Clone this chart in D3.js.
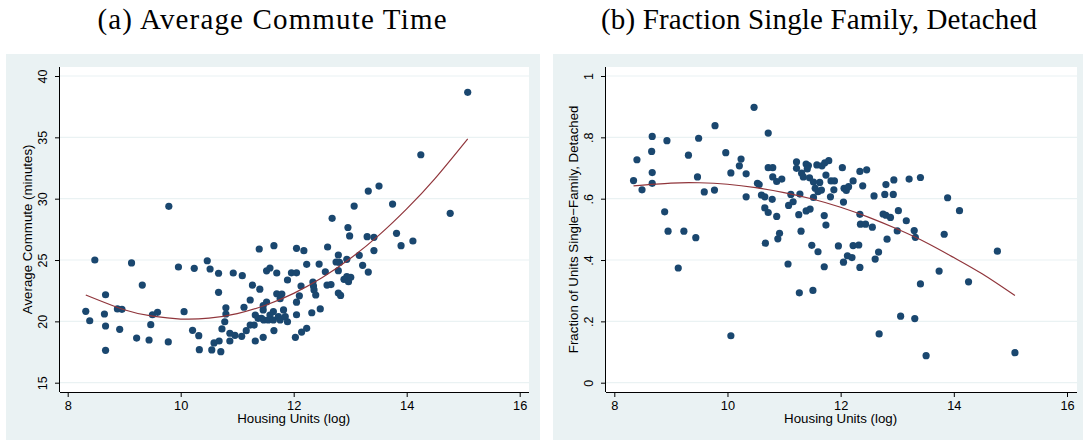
<!DOCTYPE html>
<html>
<head>
<meta charset="utf-8">
<script src="https://cdn.jsdelivr.net/npm/d3@7"></script>
<style>
  body { margin: 0; background: #fff; }
  svg { display: block; }
</style>
</head>
<body>
<div id="chart"></div>
<script>
// (a) average commute time vs log housing units
const commuteX = [8.32, 8.39, 8.48, 8.65, 8.67, 8.67, 8.67, 8.88, 8.96, 8.92, 9.13, 9.22, 9.32, 9.44, 9.47, 9.50, 9.59, 9.78, 9.79, 9.96,
  10.06, 10.21, 10.24, 10.32, 10.33, 10.47, 10.52, 10.55, 10.59, 10.67, 10.67, 10.68, 10.71, 10.73, 10.78, 10.80, 10.80, 10.87, 10.87, 10.93,
  10.96, 11.08, 11.09, 11.12, 11.16, 11.23, 11.23, 11.27, 11.30, 11.32, 11.39, 11.40, 11.32, 11.37, 11.43, 11.47, 11.46, 11.52, 11.46, 11.46,
  11.52, 11.58, 11.65, 11.70, 11.70, 11.79, 11.76, 11.64, 11.58, 11.55, 11.64, 11.73, 11.65, 11.76, 11.82, 11.85, 11.89, 11.89, 11.96, 12.05,
  12.05, 12.18, 12.05, 12.10, 12.13, 12.05, 12.03, 12.14, 12.23, 12.23, 12.32, 12.34, 12.35, 12.36, 12.39, 12.45, 12.47, 12.56, 12.60, 12.59,
  12.66, 12.68, 12.75, 12.81, 12.79, 12.79, 12.83, 12.89, 12.94, 12.97, 12.96, 12.99, 12.94, 12.79, 13.01, 13.16, 13.22, 13.32, 13.07, 13.32,
  13.51, 13.75, 13.30, 13.42, 13.42, 13.82, 13.90, 14.11, 14.25, 14.77, 15.08];
const commuteY = [20.82, 20.05, 25.00, 20.60, 22.17, 19.62, 17.64, 21.01, 20.98, 19.35, 24.76, 18.64, 22.96, 18.48, 19.73, 20.54, 20.74, 18.32, 29.38, 24.43,
  20.79, 19.27, 24.32, 18.83, 17.69, 24.94, 24.27, 17.67, 18.24, 23.92, 22.37, 18.40, 17.53, 19.38, 19.97, 21.11, 20.60, 18.40, 19.03, 23.94,
  18.86, 18.78, 23.72, 21.15, 19.24, 21.74, 19.70, 22.95, 19.70, 18.40, 25.90, 22.62, 20.52, 20.25, 20.25, 20.11, 20.93, 21.58, 21.28, 18.70,
  24.12, 24.35, 26.17, 23.94, 22.25, 22.23, 21.85, 20.79, 20.52, 20.11, 20.11, 20.38, 19.25, 20.11, 20.93, 20.38, 19.97, 23.37, 23.96, 23.96,
  25.95, 25.76, 21.56, 22.08, 22.88, 20.54, 18.70, 19.13, 19.43, 24.65, 20.70, 23.21, 22.88, 22.56, 22.15, 24.67, 21.01, 24.04, 26.06, 22.96,
  23.00, 28.40, 24.84, 24.80, 25.41, 22.31, 22.11, 23.43, 23.64, 23.23, 27.65, 26.96, 25.06, 24.13, 23.59, 25.38, 24.57, 24.02, 29.40, 30.62,
  31.03, 29.56, 26.90, 26.85, 25.77, 27.18, 26.17, 26.55, 33.58, 28.81, 38.67];
const commuteFitX = [8.32, 9, 9.5, 10, 10.5, 11, 11.5, 12, 12.5, 13, 13.5, 14, 14.5, 15.08];
const commuteFitY = [22.15, 20.95, 20.42, 20.19, 20.26, 20.63, 21.31, 22.28, 23.55, 25.12, 26.99, 29.17, 31.64, 34.88];

// (b) fraction single-family detached vs log housing units
const sfdX = [8.34, 8.40, 8.49, 8.66, 8.67, 8.67, 8.67, 8.89, 8.93, 8.95, 9.13, 9.23, 9.31, 9.44, 9.47, 9.49, 9.59, 9.77, 9.78, 9.97,
  10.06, 10.06, 10.21, 10.24, 10.33, 10.33, 10.47, 10.53, 10.56, 10.60, 10.66, 10.66, 10.72, 10.72, 10.72, 10.80, 10.79, 10.80, 10.87, 10.96,
  10.87, 10.89, 10.92, 10.67, 11.08, 11.16, 11.12, 11.22, 11.22, 11.28, 11.26, 11.30, 11.31, 11.34, 11.39, 11.43, 11.41, 11.39, 11.46, 11.49,
  11.60, 11.45, 11.52, 11.55, 11.60, 11.66, 11.63, 11.52, 11.58, 11.67, 11.72, 11.79, 11.74, 11.71, 11.74, 11.82, 11.83, 11.89, 11.88, 12.03,
  12.06, 12.10, 12.14, 12.05, 12.22, 12.34, 12.46, 12.39, 12.34, 12.35, 12.44, 12.56, 12.59, 12.22, 12.32, 11.96, 11.71, 12.05, 12.12, 12.20,
  12.34, 11.51, 11.27, 11.07, 12.61, 12.67, 12.82, 12.78, 12.93, 12.80, 12.94, 13.21, 13.41, 13.89, 14.10, 12.75, 12.80, 12.88, 13.02, 13.16,
  13.00, 13.30, 13.32, 13.83, 14.77, 13.74, 13.41, 14.26, 13.06, 13.31, 12.68, 13.51, 15.08];
const sfdY = [0.659, 0.727, 0.629, 0.754, 0.803, 0.685, 0.650, 0.557, 0.789, 0.494, 0.374, 0.494, 0.742, 0.473, 0.671, 0.797, 0.622, 0.628, 0.838, 0.750,
  0.153, 0.684, 0.707, 0.729, 0.681, 0.606, 0.898, 0.650, 0.646, 0.612, 0.606, 0.570, 0.555, 0.814, 0.701, 0.701, 0.598, 0.671, 0.656, 0.664,
  0.542, 0.469, 0.487, 0.455, 0.578, 0.590, 0.614, 0.720, 0.699, 0.615, 0.548, 0.494, 0.683, 0.671, 0.713, 0.708, 0.697, 0.560, 0.566, 0.448,
  0.427, 0.668, 0.654, 0.634, 0.623, 0.628, 0.653, 0.604, 0.710, 0.707, 0.717, 0.724, 0.677, 0.545, 0.514, 0.606, 0.658, 0.658, 0.629, 0.701,
  0.634, 0.627, 0.639, 0.589, 0.658, 0.689, 0.694, 0.642, 0.549, 0.517, 0.517, 0.507, 0.609, 0.447, 0.449, 0.446, 0.378, 0.393, 0.414, 0.408,
  0.376, 0.301, 0.293, 0.387, 0.403, 0.426, 0.468, 0.614, 0.614, 0.646, 0.661, 0.664, 0.669, 0.603, 0.561, 0.550, 0.546, 0.539, 0.561, 0.528,
  0.495, 0.496, 0.474, 0.484, 0.429, 0.364, 0.322, 0.329, 0.217, 0.209, 0.159, 0.088, 0.098];
const sfdFitX = [8.34, 9, 9.5, 10, 10.5, 11, 11.5, 12, 12.5, 13, 13.5, 14, 14.5, 15.08];
const sfdFitY = [0.642, 0.651, 0.652, 0.647, 0.636, 0.620, 0.599, 0.572, 0.539, 0.501, 0.458, 0.408, 0.355, 0.284];

const xTicks = [8, 10, 12, 14, 16];
const commuteTicks = [15, 20, 25, 30, 35, 40];
const sfdTicks = [0, 0.2, 0.4, 0.6, 0.8, 1];
const sfdTickLabels = ["0", ".2", ".4", ".6", ".8", "1"];

const width = 1083;
const height = 442;
const navy = "#1a476f";
const maroon = "#90353b";
const bg = "#eaf2f3";
const sans = "'Liberation Sans', Arial, sans-serif";

const svg = d3.select("#chart")
  .append("svg")
  .attr("width", width)
  .attr("height", height);

const panels = [
  {
    title: "(a) Average Commute Time", titleX: 272, titleLen: 349,
    outer: [6, 54, 540, 440], plot: [60, 67, 529, 392],
    xRange: [67.7, 519.7], yDomain: [15, 40], yRange: [382.7, 76],
    xs: commuteX, ys: commuteY, fx: commuteFitX, fy: commuteFitY,
    yTicks: commuteTicks, yFormat: d => d,
    yTitle: "Average Commute (minutes)"
  },
  {
    title: "(b) Fraction Single Family, Detached", titleX: 819, titleLen: 436,
    outer: [553, 54, 1083, 440], plot: [606, 67, 1077, 392],
    xRange: [614.3, 1067], yDomain: [0, 1], yRange: [382.7, 76],
    xs: sfdX, ys: sfdY, fx: sfdFitX, fy: sfdFitY,
    yTicks: sfdTicks, yFormat: (d, i) => sfdTickLabels[i],
    yTitle: "Fraction of Units Single\u2212Family, Detached"
  }
];

panels.forEach(p => {
  const [ox0, oy0, ox1, oy1] = p.outer;
  const [px0, py0, px1, py1] = p.plot;

  svg.append("rect")
    .attr("x", ox0).attr("y", oy0)
    .attr("width", ox1 - ox0).attr("height", oy1 - oy0)
    .attr("fill", bg);

  svg.append("rect")
    .attr("x", px0).attr("y", py0)
    .attr("width", px1 - px0).attr("height", py1 - py0)
    .attr("fill", "#fff");

  const x = d3.scaleLinear().domain([8, 16]).range(p.xRange);
  const y = d3.scaleLinear().domain(p.yDomain).range(p.yRange);

  // grid lines
  svg.append("g")
    .selectAll("line")
    .data(p.yTicks)
    .enter()
    .append("line")
    .attr("x1", px0).attr("x2", px1)
    .attr("y1", d => y(d)).attr("y2", d => y(d))
    .attr("stroke", bg)
    .attr("stroke-width", 1.2);

  // markers
  const pts = p.xs.map((v, i) => ({ x: v, y: p.ys[i] }));
  svg.append("g")
    .selectAll("circle")
    .data(pts)
    .enter()
    .append("circle")
    .attr("cx", d => x(d.x))
    .attr("cy", d => y(d.y))
    .attr("r", 3.6)
    .attr("fill", navy);

  // fitted line
  const fit = p.fx.map((v, i) => [v, p.fy[i]]);
  svg.append("path")
    .datum(fit)
    .attr("fill", "none")
    .attr("stroke", maroon)
    .attr("stroke-width", 1.2)
    .attr("d", d3.line().x(d => x(d[0])).y(d => y(d[1])).curve(d3.curveNatural));

  // x axis
  const gx = svg.append("g")
    .attr("transform", `translate(0,${py1})`)
    .call(d3.axisBottom(x).tickValues(xTicks).tickSize(5).tickPadding(4).tickSizeOuter(0));
  gx.select(".domain").attr("d", `M${px0},0.5H${px1}`).attr("stroke", "#000");
  gx.selectAll(".tick line").attr("stroke", "#000");
  gx.selectAll("text")
    .attr("font-family", sans)
    .attr("font-size", 12.8)
    .attr("fill", "#000");

  // y axis with rotated labels
  const gy = svg.append("g")
    .attr("transform", `translate(${px0},0)`)
    .call(d3.axisLeft(y).tickValues(p.yTicks).tickFormat(p.yFormat).tickSize(5).tickSizeOuter(0));
  gy.select(".domain").attr("d", `M-0.5,${py0}V${py1}`).attr("stroke", "#000");
  gy.selectAll(".tick line").attr("stroke", "#000");
  gy.selectAll("text")
    .attr("x", null)
    .attr("dy", null)
    .attr("transform", "translate(-13,0) rotate(-90)")
    .attr("text-anchor", "middle")
    .attr("font-family", sans)
    .attr("font-size", 12.5)
    .attr("fill", "#000");

  // axis titles
  svg.append("text")
    .attr("x", (p.xRange[0] + p.xRange[1]) / 2)
    .attr("y", 423)
    .attr("text-anchor", "middle")
    .attr("font-family", sans)
    .attr("font-size", 13.3)
    .text("Housing Units (log)");

  svg.append("text")
    .attr("transform", `translate(${px0 - 28},${(p.yRange[0] + p.yRange[1]) / 2}) rotate(-90)`)
    .attr("text-anchor", "middle")
    .attr("font-family", sans)
    .attr("font-size", 13.3)
    .text(p.yTitle);

  // panel title
  svg.append("text")
    .attr("x", p.titleX)
    .attr("y", 29)
    .attr("text-anchor", "middle")
    .attr("font-family", "'Liberation Serif', 'Times New Roman', serif")
    .attr("font-size", 29)
    .attr("textLength", p.titleLen)
    .attr("lengthAdjust", "spacing")
    .text(p.title);
});
</script>
</body>
</html>
